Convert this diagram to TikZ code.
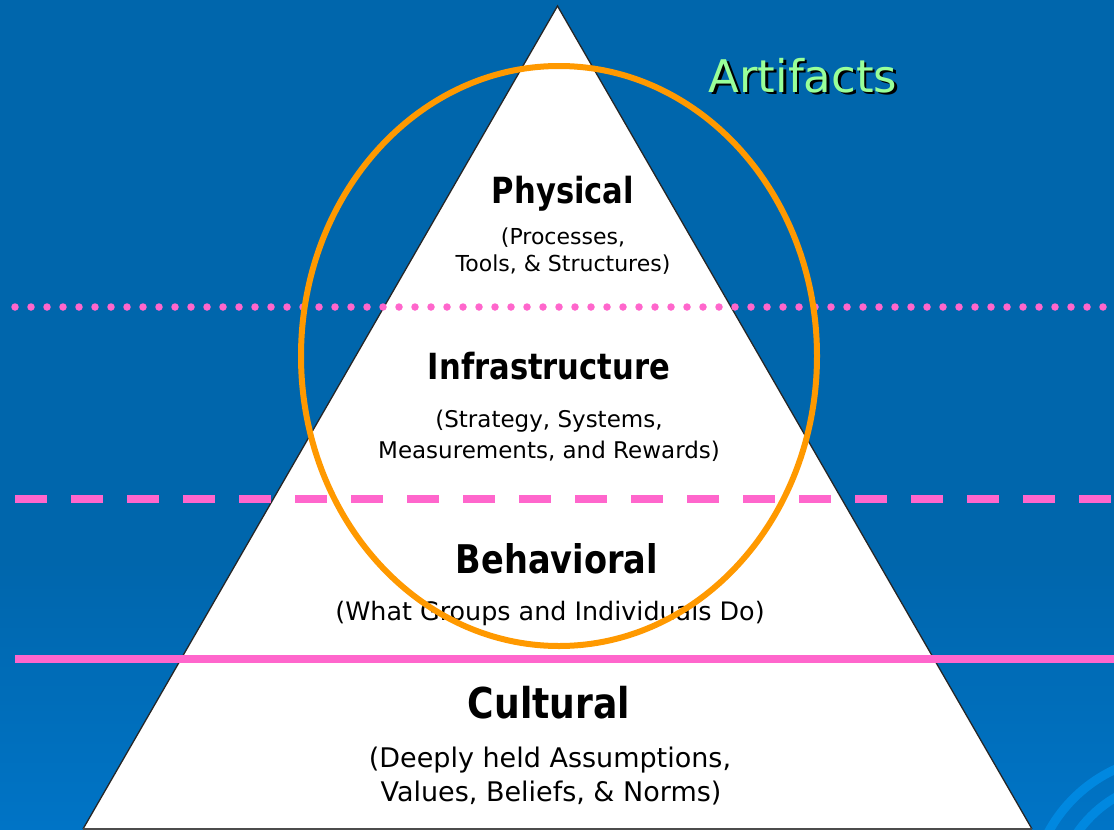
\documentclass[tikz,border=0pt]{standalone}
\usepackage{fontspec}
\setmainfont{DejaVu Sans}
\newfontfamily\headfont{DejaVu Sans}[FakeStretch=0.85]

\definecolor{bgblue}{RGB}{0,102,172}
\definecolor{bglight}{RGB}{0,116,198}
\definecolor{swirlblue}{RGB}{0,136,224}
\definecolor{levelpink}{RGB}{255,102,204}
\definecolor{ringorange}{RGB}{255,153,0}
\definecolor{artgreen}{RGB}{153,255,153}

\tikzset{
  layertitle/.style={anchor=base, inner sep=0pt, text=black},
  layernote/.style={anchor=base, inner sep=0pt, text=black},
  swirl/.style={draw=swirlblue, line width=9pt},
}

\begin{document}
\begin{tikzpicture}[x=1pt,y=-1pt]
  \useasboundingbox (0,0) rectangle (1114,830);

  % background
  \fill[bgblue] (0,0) rectangle (1114,830);
  \shade[top color=bgblue, bottom color=bglight] (0,560) rectangle (1114,830);

  % corner swirl
  \begin{scope}
    \clip (0,0) rectangle (1114,830);
    \draw[swirl] (1176,901) circle [radius=145pt];
    \draw[swirl] (1176,901) circle [radius=120pt];
  \end{scope}

  % pyramid
  \coordinate (apex) at (557.5,6);
  \coordinate (bl) at (83,829);
  \coordinate (br) at (1032,829);
  \fill[white] (apex) -- (br) -- (bl) -- cycle;
  \draw[black!85, line width=1.3pt] (bl) -- (apex) -- (br);
  \draw[black!70, line width=2pt] (bl) -- (br);

  % layer labels
  \node[layertitle, font=\headfont\bfseries\fontsize{36}{42}\selectfont] (physical) at (563,203) {Physical};
  \node[layernote, font=\fontsize{22}{26}\selectfont] (physnote1) at (563,244) {(Processes,};
  \node[layernote, font=\fontsize{22}{26}\selectfont] (physnote2) at (563,271) {Tools, \& Structures)};

  \node[layertitle, font=\headfont\bfseries\fontsize{36}{42}\selectfont] (infra) at (549,379) {Infrastructure};
  \node[layernote, font=\fontsize{23}{27}\selectfont] (infranote1) at (549,427) {(Strategy, Systems,};
  \node[layernote, font=\fontsize{23}{27}\selectfont] (infranote2) at (549,458) {Measurements, and Rewards)};

  \node[layertitle, font=\headfont\bfseries\fontsize{39.5}{46}\selectfont] (behav) at (557,573) {Behavioral};
  \node[layernote, font=\fontsize{25.4}{30}\selectfont] (behavnote) at (550,620) {(What Groups and Individuals Do)};

  \node[layertitle, font=\headfont\bfseries\fontsize{42.5}{48}\selectfont] (cultural) at (549,718) {Cultural};
  \node[layernote, font=\fontsize{27}{32}\selectfont] (culturenote1) at (550,767) {(Deeply held Assumptions,};
  \node[layernote, font=\fontsize{27}{32}\selectfont] (culturenote2) at (551,801) {Values, Beliefs, \& Norms)};

  % level separators
  \coordinate (dotL) at (15,307);   \coordinate (dotR) at (1103.2,307);
  \coordinate (dashL) at (15,499);  \coordinate (dashR) at (1111,499);
  \coordinate (solidL) at (15,659); \coordinate (solidR) at (1114,659);
  \draw[levelpink, line width=7.5pt, line cap=round, dash pattern=on 0pt off 16pt] (dotL) -- (dotR);
  \draw[levelpink, line width=8pt, dash pattern=on 32pt off 24pt] (dashL) -- (dashR);
  \draw[levelpink, line width=8pt] (solidL) -- (solidR);

  % artifacts ring
  \draw[ringorange, line width=6pt] (559,356) ellipse [x radius=258pt, y radius=290pt];

  % artifacts label with drop shadow
  \node[anchor=base, inner sep=0pt, text=black, font=\fontsize{45}{52}\selectfont] (artshadow) at (805.5,94.5) {Artifacts};
  \node[anchor=base, inner sep=0pt, text=artgreen, font=\fontsize{45}{52}\selectfont] (artifacts) at (803,92) {Artifacts};
\end{tikzpicture}
\end{document}
